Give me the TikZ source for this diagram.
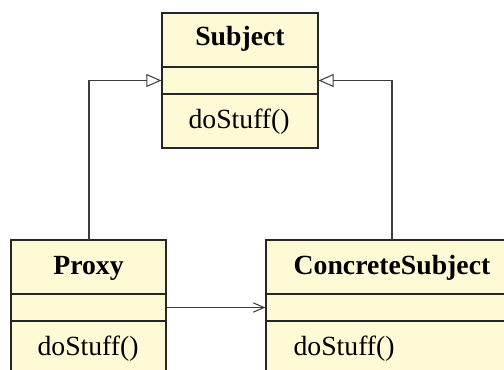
\documentclass[tikz,border=0pt]{standalone}
\usepackage{fontspec}
\setmainfont{Liberation Serif}
\usetikzlibrary{arrows.meta,fit}
\definecolor{boxfill}{RGB}{255,250,214}
\definecolor{linkgray}{RGB}{60,60,60}
\tikzset{
  umlbox/.style={draw=black!85, fill=boxfill, line width=0.45pt, inner sep=0pt},
  divider/.style={draw=black!85, line width=0.45pt},
  title/.style={font=\fontsize{10.75pt}{13pt}\selectfont\bfseries, anchor=base, inner sep=0pt},
  member/.style={font=\fontsize{10.75pt}{13pt}\selectfont, anchor=base west, inner sep=0pt},
  inherit/.style={draw=linkgray, line width=0.4pt, -{Triangle[open, length=5.8pt, width=5pt]}},
  assoc/.style={draw=linkgray, line width=0.4pt, -{Straight Barb[length=4.2pt, width=3.6pt]}}
}
\begin{document}
\begin{tikzpicture}[x=0.3876pt, y=-0.3876pt]
\useasboundingbox (0,0) rectangle (504,369);
\clip (0,0) rectangle (504,369);
\fill[white] (0,0) rectangle (504,369);
% Subject
\node[umlbox, fit={(162,13) (318,148)}] (subject) {};
\draw[divider] (162,67) -- (318,67);
\draw[divider] (162,94) -- (318,94);
\node[title] (subjectname) at (240,46) {Subject};
\node[member] (subjectop) at (188,128) {doStuff()};
% Proxy
\node[umlbox, fit={(11,240) (166,390)}] (proxy) {};
\draw[divider] (11,294) -- (166,294);
\draw[divider] (11,321) -- (166,321);
\node[title] (proxyname) at (88.5,274) {Proxy};
\node[member] (proxyop) at (37,355) {doStuff()};
% ConcreteSubject
\node[umlbox, fit={(266,240) (518,390)}] (real) {};
\draw[divider] (266,294) -- (518,294);
\draw[divider] (266,321) -- (518,321);
\node[title] (realname) at (392,274) {ConcreteSubject};
\node[member] (realop) at (293,355) {doStuff()};
% connectors
\coordinate (lbend) at (89,80.5);
\coordinate (rbend) at (392,80.5);
\draw[inherit] (89,240) -- (lbend) -- (subject.west |- lbend);
\draw[inherit] (392,240) -- (rbend) -- (subject.east |- rbend);
\draw[assoc] (proxy.east |- 0,307.5) -- (real.west |- 0,307.5);
\end{tikzpicture}
\end{document}
